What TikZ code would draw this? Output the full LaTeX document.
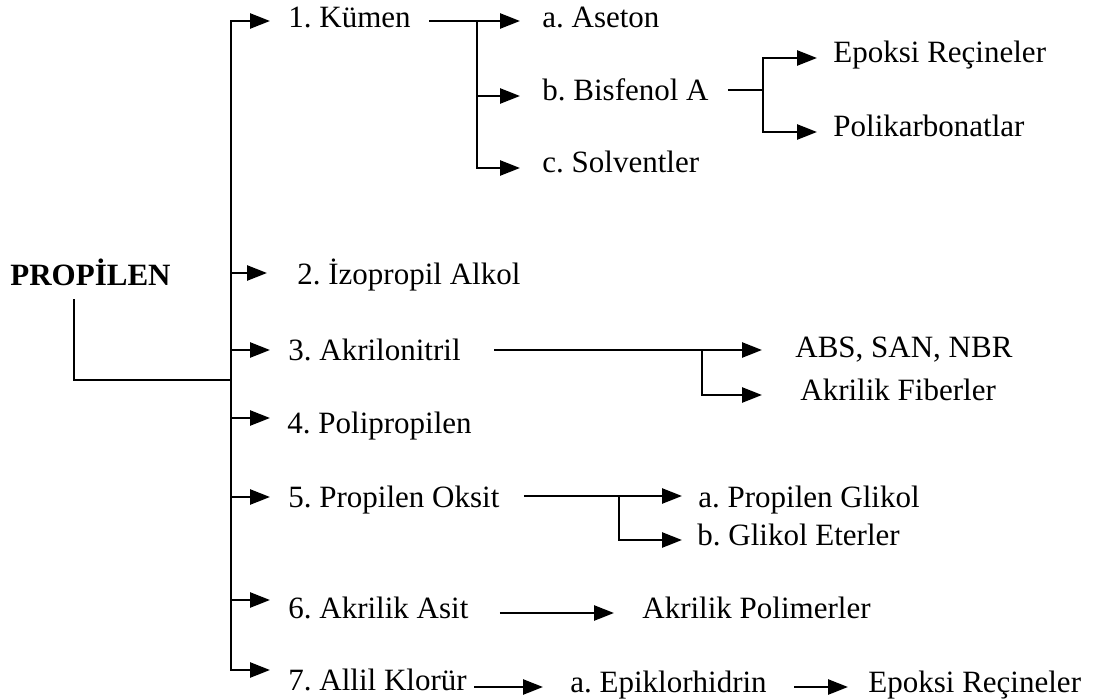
\documentclass[tikz,border=0pt]{standalone}
\usepackage{fontspec}
\setmainfont{Liberation Serif}
\usetikzlibrary{arrows.meta, calc}
\frenchspacing

\tikzset{
  item/.style={anchor=base west, inner sep=0pt, text height=.7em, text depth=.2em,
    font=\fontsize{15.5}{18}\selectfont},
  itembold/.style={item, font=\fontsize{15.5}{18}\selectfont\bfseries},
  arrow/.style={-{Triangle[length=10pt, width=7.5pt]}, line width=1.3pt},
  link/.style={line width=1.3pt},
}

\begin{document}
\begin{tikzpicture}[x=0.5pt, y=-0.5pt]
\useasboundingbox (0,0) rectangle (1096,700);

% first level
\node[itembold] (propilen) at (10,285) {PROPİLEN};
\node[item] (kumen) at (288,28) {1. Kümen};
\node[item] (izopropil) at (297,284) {2. İzopropil Alkol};
\node[item] (akrilonitril) at (288,360) {3. Akrilonitril};
\node[item] (polipropilen) at (287,433) {4. Polipropilen};
\node[item] (poksit) at (288,507) {5. Propilen Oksit};
\node[item] (akasit) at (288,618) {6. Akrilik Asit};
\node[item] (allil) at (288,690) {7. Allil Klorür};

% second and third level
\node[item] (aseton) at (542,28) {a. Aseton};
\node[item] (bisfenol) at (542,101) {b. Bisfenol A};
\node[item] (solvent) at (542,173) {c. Solventler};
\node[item] (epoksiA) at (833,63) {Epoksi Reçineler};
\node[item] (polikarb) at (833,137) {Polikarbonatlar};
\node[item] (abs) at (795,357) {ABS, SAN, NBR};
\node[item] (fiber) at (800,400) {Akrilik Fiberler};
\node[item] (pglikol) at (698,507) {a. Propilen Glikol};
\node[item] (geter) at (697,545) {b. Glikol Eterler};
\node[item] (polimer) at (642,618) {Akrilik Polimerler};
\node[item] (epikl) at (570,692) {a. Epiklorhidrin};
\node[item] (epoksiB) at (868,692) {Epoksi Reçineler};

% trunk
\coordinate (stem) at (74,299);
\coordinate (t0) at (231,380);
\coordinate (t1) at (231,21);
\coordinate (t2) at (231,273);
\coordinate (t3) at (231,350);
\coordinate (t4) at (231,418);
\coordinate (t5) at (231,497);
\coordinate (t6) at (231,600);
\coordinate (t7) at (231,670);
\draw[link] (stem) |- (t0);
\draw[arrow, shorten >=9pt] (t0) -- (t1) -- (t1 -| kumen.west);
\draw[arrow, shorten >=9pt] (t0) -- (t7) -- (t7 -| allil.west);
\draw[arrow, shorten >=15pt] (t2) -- (t2 -| izopropil.west);
\draw[arrow, shorten >=9pt] (t3) -- (t3 -| akrilonitril.west);
\draw[arrow, shorten >=8.5pt] (t4) -- (t4 -| polipropilen.west);
\draw[arrow, shorten >=9pt] (t5) -- (t5 -| poksit.west);
\draw[arrow, shorten >=9pt] (t6) -- (t6 -| akasit.west);

% kumen
\coordinate (kj) at (477,21);
\draw[link, shorten <=9pt] (kumen.east |- kj) -- (kj);
\draw[arrow, shorten >=11pt] (kj) -- (kj -| aseton.west);
\draw[arrow, shorten >=11pt] (kj) |- (bisfenol.west);
\draw[arrow, shorten >=11pt] (kj) |- (solvent.west);

% bisfenol A
\coordinate (bj) at (763,90);
\draw[link, shorten <=9.5pt] (bisfenol.east |- bj) -- (bj);
\draw[arrow, shorten >=8pt] (bj) |- (epoksiA.west);
\draw[arrow, shorten >=8pt] (bj) |- (polikarb.west);

% akrilonitril
\coordinate (aj) at (702,350);
\draw[arrow, shorten <=16.5pt, shorten >=16.5pt] (akrilonitril.east |- aj) -- (aj -| abs.west);
\draw[arrow, shorten >=19pt] (aj) |- (fiber.west);

% propilen oksit
\coordinate (pj) at (619,496);
\draw[arrow, shorten <=12pt, shorten >=8pt] (poksit.east |- pj) -- (pj -| pglikol.west);
\draw[arrow, shorten >=7.5pt] (pj) |- (geter.west);

% akrilik asit, allil klorur
\draw[arrow, shorten <=15.5pt, shorten >=14pt] (akasit.east |- polimer.west) -- (polimer.west);
\draw[arrow, shorten <=3.5pt, shorten >=13.5pt] (allil.east |- epikl.west) -- (epikl.west);
\draw[arrow, shorten <=13.5pt, shorten >=10pt] (epikl.east) -- (epoksiB.west);
\end{tikzpicture}
\end{document}
